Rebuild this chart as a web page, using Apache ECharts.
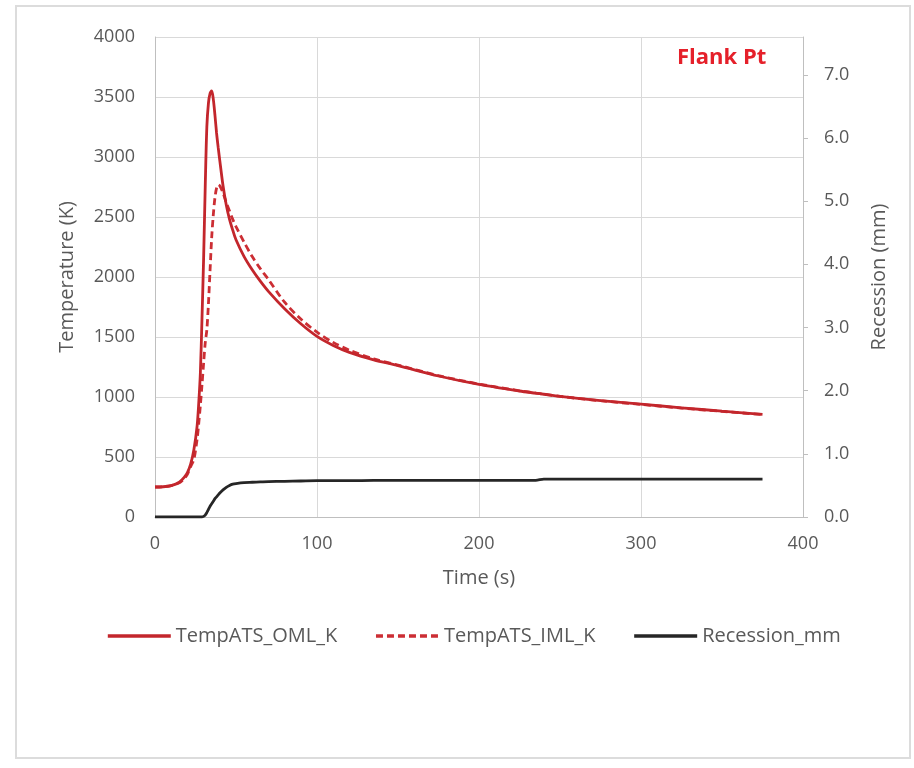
<!DOCTYPE html>
<html>
<head>
<meta charset="utf-8">
<script src="https://cdn.jsdelivr.net/npm/echarts@6/dist/echarts.min.js"></script>
<style>
html,body{margin:0;padding:0;background:#fff;}
#chart{width:914px;height:768px;}
</style>
</head>
<body>
<div id="chart"></div>
<script>
// Time (s)
var time = [0,5,10,15,18,20,22,24,26,27,28,29,30,31,32,33,34,35,36,37,38,39,40,42,44,46,48,50,55,60,65,70,80,90,100,110,120,135,150,175,200,225,235,240,250,275,300,325,350,375];
// Outer mold line temperature (K)
var tempOML = [250,252,262,290,330,370,440,560,760,950,1200,1650,2150,2750,3250,3450,3530,3550,3480,3350,3200,3080,2970,2760,2600,2480,2390,2310,2170,2060,1965,1880,1735,1610,1505,1430,1372,1310,1262,1175,1105,1050,1032,1023,1005,970,940,910,882,856];
// Inner mold line temperature (K)
var tempIML = [250,252,262,285,320,355,420,480,650,780,930,1100,1280,1450,1560,1780,2060,2330,2520,2660,2740,2770,2760,2700,2620,2550,2480,2420,2290,2170,2070,1980,1790,1650,1540,1455,1390,1318,1266,1178,1108,1052,1033,1024,1005,969,938,908,880,854];
// Recession (mm)
var recession = [0,0,0,0,0,0,0,0,0,0,0,0,0.01,0.03,0.07,0.12,0.17,0.21,0.25,0.29,0.32,0.35,0.38,0.43,0.47,0.50,0.52,0.53,0.545,0.55,0.555,0.56,0.565,0.57,0.575,0.575,0.575,0.58,0.58,0.58,0.58,0.58,0.58,0.60,0.60,0.60,0.60,0.60,0.60,0.60];

var seriesNames = ['TempATS_OML_K','TempATS_IML_K','Recession_mm'];
var titleText = 'Flank Pt';

function pairs(vals){ return time.map(function(t,i){ return [t, vals[i]]; }); }

var FONT = 'Open Sans';
var GRAY = '#595959';
var chart = echarts.init(document.getElementById('chart'), null, {renderer:'canvas'});
chart.setOption({
  animation:false,
  backgroundColor:'#fff',
  textStyle:{fontFamily:FONT},
  graphic:[{type:'rect', shape:{x:16,y:6,width:894,height:752}, style:{fill:'none', stroke:'#dcdcdc', lineWidth:2}, z:-1},
           {type:'text', left:677, top:47, style:{text:titleText, fill:'#e5202a', font:'bold 22px "Open Sans"'}}],
  grid:{left:155, right:111, top:37, bottom:251},
  legend:{
    top:621, left:101, itemGap:37, itemWidth:63, itemHeight:14,
    itemStyle:{opacity:0},
    lineStyle:{width:3.6},
    textStyle:{color:GRAY, fontSize:20, fontFamily:FONT},
    data:seriesNames
  },
  xAxis:{
    type:'value', min:0, max:400, interval:100,
    name:'Time (s)', nameLocation:'middle', nameGap:51,
    nameTextStyle:{color:GRAY, fontSize:20, fontFamily:FONT},
    axisLine:{show:true, lineStyle:{color:'#bfbfbf'}},
    axisTick:{show:false},
    axisLabel:{color:GRAY, fontSize:18, margin:18, fontFamily:FONT},
    splitLine:{show:true, lineStyle:{color:'#d9d9d9'}}
  },
  yAxis:[{
    type:'value', min:0, max:4000, interval:500,
    name:'Temperature (K)', nameLocation:'middle', nameGap:78, nameRotate:90,
    nameTextStyle:{color:GRAY, fontSize:20, fontFamily:FONT},
    axisLine:{show:true, lineStyle:{color:'#bfbfbf'}},
    axisTick:{show:false},
    axisLabel:{color:GRAY, fontSize:18, margin:20, fontFamily:FONT,
      formatter:function(v){ return String(v); }},
    splitLine:{show:true, lineStyle:{color:'#d9d9d9'}}
  },{
    type:'value', min:0, max:7.6, interval:1, position:'right',
    name:'Recession (mm)', nameLocation:'middle', nameGap:66, nameRotate:90,
    nameTextStyle:{color:GRAY, fontSize:20, fontFamily:FONT},
    axisLine:{show:true, lineStyle:{color:'#bfbfbf'}},
    axisTick:{show:true, inside:false, length:5, lineStyle:{color:'#bfbfbf'}},
    axisLabel:{color:GRAY, fontSize:18, margin:21, fontFamily:FONT, showMaxLabel:false,
      formatter:function(v){ return v.toFixed(1); }},
    splitLine:{show:false}
  }],
  series:[{
    name:seriesNames[0], type:'line', yAxisIndex:0, data:pairs(tempOML),
    symbol:'none', smooth:0.3, lineStyle:{color:'#c3262c', width:2.8}, itemStyle:{color:'#c3262c'}, z:3
  },{
    name:seriesNames[1], type:'line', yAxisIndex:0, data:pairs(tempIML),
    symbol:'none', smooth:0.3, lineStyle:{color:'#cc2e34', width:2.8, type:[7,4]}, itemStyle:{color:'#cc2e34'}, z:2
  },{
    name:seriesNames[2], type:'line', yAxisIndex:1, data:pairs(recession),
    symbol:'none', smooth:0.3, lineStyle:{color:'#262626', width:2.8}, itemStyle:{color:'#262626'}, z:4
  }]
});
</script>
</body>
</html>
